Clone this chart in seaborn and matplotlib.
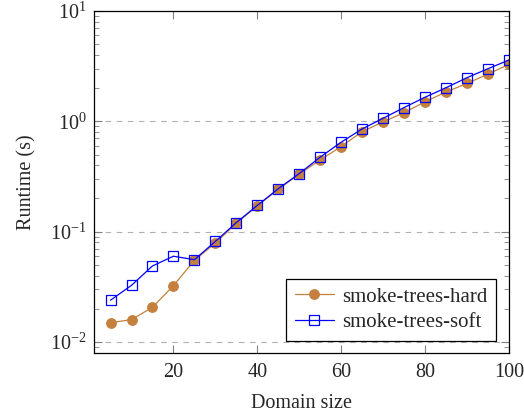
import numpy as np
import pandas as pd
import matplotlib
matplotlib.use("Agg")
import matplotlib.pyplot as plt
import matplotlib.ticker as mticker
import seaborn as sns

domain_size = [5, 10, 15, 20, 25, 30, 35, 40, 45, 50,
               55, 60, 65, 70, 75, 80, 85, 90, 95, 100]
hard_runtime = [0.015, 0.016, 0.0207, 0.0325, 0.055, 0.079, 0.119, 0.171, 0.242, 0.332,
                0.447, 0.59, 0.806, 0.986, 1.196, 1.50, 1.84, 2.20, 2.67, 3.27]
soft_runtime = [0.024, 0.0327, 0.049, 0.060, 0.0558, 0.0817, 0.121, 0.173, 0.245, 0.336,
                0.473, 0.646, 0.852, 1.064, 1.33, 1.65, 2.01, 2.48, 2.99, 3.58]

sns.set_style("ticks")
plt.rcParams['font.family'] = ['Liberation Serif', 'DejaVu Serif']
plt.rcParams['mathtext.fontset'] = 'cm'

hard = pd.DataFrame({'size': domain_size, 'runtime': hard_runtime})
soft = pd.DataFrame({'size': domain_size, 'runtime': soft_runtime})

fig = plt.figure(figsize=(5.24, 4.17), dpi=100)
ax = fig.add_axes([0.179, 0.153, 0.792, 0.821])

sns.lineplot(data=hard, x='size', y='runtime', ax=ax, color='#c4803c',
             marker='o', markersize=7, markeredgecolor='#c4803c',
             linewidth=0.9, label='smoke-trees-hard')
sns.lineplot(data=soft, x='size', y='runtime', ax=ax, color='#0000ff',
             marker='s', markersize=7, markerfacecolor='none',
             markeredgecolor='#0000ff', markeredgewidth=0.9,
             linewidth=0.9, label='smoke-trees-soft')

ax.set_yscale('log')
ax.set_xlim(1, 100)
ax.set_ylim(10 ** -2.1, 10)
ax.set_xticks([20, 40, 60, 80, 100])
ax.yaxis.set_major_locator(mticker.LogLocator(base=10, numticks=10))
ax.yaxis.set_minor_locator(mticker.LogLocator(base=10, subs=np.arange(2, 10), numticks=20))
ax.yaxis.set_minor_formatter(mticker.NullFormatter())

for y in [1e-2, 1e-1, 1e0]:
    ax.axhline(y, color='#b0b0b0', linestyle=(0, (5, 5)), linewidth=0.8, zorder=0)

ax.tick_params(which='both', direction='in', top=True, right=True,
               color='#808080', labelsize=14.5)
ax.tick_params(which='major', length=6, width=0.8)
ax.tick_params(which='minor', length=3.5, width=0.6)
ax.tick_params(axis='x', which='major', pad=7)
ax.tick_params(axis='y', which='major', pad=5)
for s in ax.spines.values():
    s.set_linewidth(0.9)
    s.set_color('black')

ax.set_xlabel('Domain size', fontsize=14.5, labelpad=9)
ax.set_ylabel('Runtime (s)', fontsize=14.5, labelpad=10)

leg = ax.legend(loc='lower right', fontsize=15, fancybox=False, framealpha=1,
                edgecolor='black', borderaxespad=0.6, handlelength=1.9,
                handletextpad=0.4, borderpad=0.4, labelspacing=0.3)
leg.get_frame().set_linewidth(0.9)

plt.savefig('out.png', dpi=100)
